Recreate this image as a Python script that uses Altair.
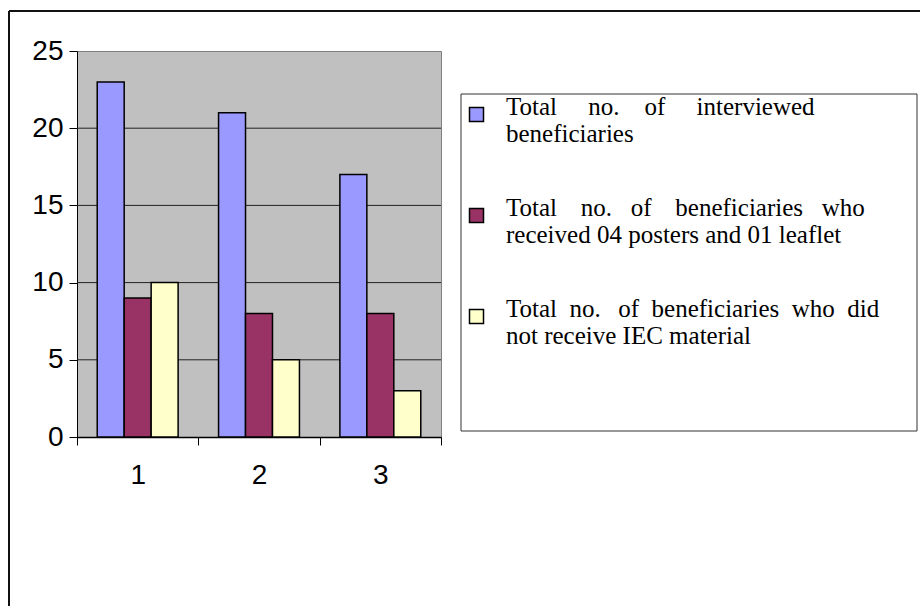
import altair as alt
import pandas as pd

# ---- data ----
categories = ["1", "2", "3"]
series = [
    "Total no. of interviewed beneficiaries",
    "Total no. of beneficiaries who received 04 posters and 01 leaflet",
    "Total no. of beneficiaries who did not receive IEC material",
]
interviewed = [23, 21, 17]
received_material = [9, 8, 8]
not_received = [10, 5, 3]
y_ticks = [0, 5, 10, 15, 20, 25]
grid_values = [5, 10, 15, 20]

# legend text split in two lines (justified look via non-breaking / thin spaces)
legend_line1 = [
    ["Total", "no.", "of", "interviewed"],
    ["Total", "no.", "of", "beneficiaries", "who"],
    ["Total", "no.", "of", "beneficiaries", "who", "did"],
]
legend_line2 = ["beneficiaries", "received 04 posters and 01 leaflet", "not receive IEC material"]
gap_spaces = [[5, 4, 5], [3, 3, 3, 3], [2, 2, 2, 2, 2]]
gap_thin = [[0, 0, 0], [1, 0, 1, 0], [0, 1, 0, 0, 0]]
indent_spaces = [0, 0, 1]

colors = ["#9999FF", "#993366", "#FFFFCC"]

rows = []
for vals, s in zip([interviewed, received_material, not_received], series):
    for c, v in zip(categories, vals):
        rows.append({"category": c, "series": s, "value": v})
df = pd.DataFrame(rows)
grid_df = pd.DataFrame({"value": grid_values})
one = pd.DataFrame({"a": [0]})

NB = "\u00a0"
TH = "\u2009"


def js(s):
    return "'" + s.replace("'", "\\'") + "'"


parts = []
for s, words, gaps, thins, ind, l2 in zip(series, legend_line1, gap_spaces, gap_thin, indent_spaces, legend_line2):
    line = NB * ind + words[0]
    for w, g, t in zip(words[1:], gaps, thins):
        line += NB * g + TH * t + w
    parts.append((s, [line, NB * ind + l2]))
label_expr = ""
for s, lines in parts[:-1]:
    label_expr += f"datum.label == {js(s)} ? [{js(lines[0])}, {js(lines[1])}] : "
label_expr += f"[{js(parts[-1][1][0])}, {js(parts[-1][1][1])}]"

# ---- layout (pixels) ----
PL, PT = 77, 51
W, H = 364, 386

y_scale = alt.Scale(domain=[0, 25], nice=False)

bars = alt.Chart(df).mark_bar(stroke="black", strokeWidth=1.5).encode(
    x=alt.X(
        "category:N",
        sort=categories,
        scale=alt.Scale(paddingInner=0, paddingOuter=0),
        axis=alt.Axis(
            title=None, labelAngle=0, tickBand="extent", tickSize=8, labelPadding=16,
            labelFont="Liberation Sans", labelFontSize=28, labelColor="black",
            domainColor="black", domainWidth=1.5, tickColor="black", tickWidth=1, grid=False,
        ),
    ),
    xOffset=alt.XOffset("series:N", sort=series, scale=alt.Scale(paddingInner=0, paddingOuter=0.75)),
    y=alt.Y(
        "value:Q",
        scale=y_scale,
        axis=alt.Axis(
            title=None, values=y_ticks, tickSize=8, labelPadding=6,
            labelFont="Liberation Sans", labelFontSize=28, labelColor="black",
            domainColor="black", domainWidth=1, tickColor="black", tickWidth=1, grid=False,
        ),
    ),
    color=alt.Color(
        "series:N",
        sort=series,
        scale=alt.Scale(domain=series, range=colors),
        legend=alt.Legend(
            orient="none", legendX=387, legendY=51, title=None,
            symbolType="square", symbolSize=196, symbolStrokeColor="black",
            symbolStrokeWidth=1.5, symbolOpacity=1,
            labelFont="Liberation Serif", labelFontSize=25, labelColor="black",
            labelBaseline="alphabetic",
            labelLimit=700, labelOffset=17, rowPadding=48, padding=0,
            labelExpr=label_expr,
        ),
    ),
)

grid = alt.Chart(grid_df).mark_rule(color="#222222", strokeWidth=1).encode(
    y=alt.Y("value:Q", scale=y_scale),
    x=alt.value(0),
    x2=alt.value(W),
)

legend_box = alt.Chart(one).mark_rect(fill="white", stroke="#333333", strokeWidth=1).encode(
    x=alt.value(461 - PL), x2=alt.value(917 - PL),
    y=alt.value(94 - PT), y2=alt.value(431 - PT),
)

frame_left = alt.Chart(one).mark_rule(color="#111111", strokeWidth=2).encode(
    x=alt.value(9 - PL), y=alt.value(11 - PT), y2=alt.value(620 - PT),
)
frame_top = alt.Chart(one).mark_rule(color="#111111", strokeWidth=2).encode(
    x=alt.value(9 - PL), x2=alt.value(930 - PL), y=alt.value(11 - PT),
)

chart = alt.layer(legend_box, frame_left, frame_top, grid, bars).properties(
    width=W,
    height=H,
    autosize=alt.AutoSizeParams(type="none"),
    padding={"left": PL, "top": PT, "right": 920 - PL - W, "bottom": 606 - PT - H},
    background="white",
).configure_view(
    fill="#C0C0C0", stroke="#808080", strokeWidth=1,
)

chart.save("out.html", embed_options={"renderer": "svg", "actions": False})
